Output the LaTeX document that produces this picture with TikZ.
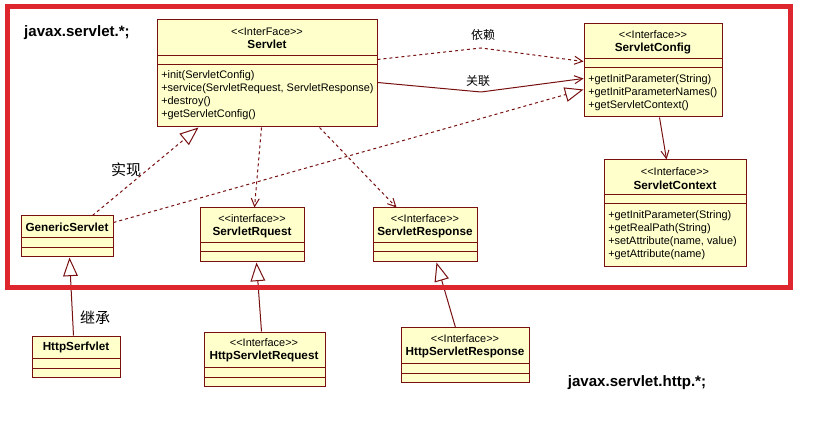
\documentclass[tikz,border=0pt]{standalone}
\usepackage{fontspec}
\setmainfont{Liberation Sans}[Ligatures=TeXOff]
\newfontfamily\cjk{Noto Sans CJK SC}
\usetikzlibrary{arrows.meta,calc,fit}
\definecolor{boxfill}{RGB}{255,255,204}
\definecolor{umlline}{RGB}{120,16,16}
\definecolor{framered}{RGB}{222,38,46}
\tikzset{
  classbox/.style={draw=umlline, fill=boxfill, line width=0.75pt, inner sep=0pt, rectangle},
  sepline/.style={draw=umlline, line width=0.75pt},
  stereo/.style={font=\fontsize{8.2}{9.75}\selectfont, inner sep=0pt},
  cname/.style={font=\bfseries\fontsize{8.8}{10}\selectfont, inner sep=0pt},
  ops/.style={font=\fontsize{8.2}{9.75}\selectfont, align=left, anchor=west, inner sep=0pt},
  lbl/.style={font=\cjk\fontsize{9}{10}\selectfont, inner sep=0pt},
  biglbl/.style={font=\cjk\fontsize{11.25}{12}\selectfont, inner sep=0pt},
  pkg/.style={font=\bfseries\fontsize{11.3}{13}\selectfont, inner sep=0pt},
  conn/.style={draw=umlline, line width=0.75pt},
  dashline/.style={dash pattern=on 2.25pt off 2.25pt},
  vee/.style={-{Straight Barb[length=6pt,width=6pt]}},
  tri/.style={-{Triangle[length=14pt,width=11pt,fill=white]}},
}
\newcommand\umlclass[7]{%
  \node[classbox, fit={(#2,#3) (#4,#5)}] (#1) {};
  \draw[sepline] (#2,#6) -- (#4,#6);
  \draw[sepline] (#2,#7) -- (#4,#7);
}
\begin{document}
\begin{tikzpicture}[x=0.75pt,y=-0.75pt]
\useasboundingbox (0,0) rectangle (813,441);
\fill[white] (0,0) rectangle (813,441);

% classes
\umlclass{servlet}{157}{20}{377}{127}{56}{65}
\node[stereo] (servlet-st) at (267,32) {<<InterFace>>};
\node[cname] (servlet-nm) at (267,44) {Servlet};
\node[ops] (servlet-op) at (161,95) {+init(ServletConfig)\\+service(ServletRequest, ServletResponse)\\+destroy()\\+getServletConfig()};

\umlclass{config}{584}{24}{722}{117}{59}{68}
\node[stereo] (config-st) at (653,35) {<<Interface>>};
\node[cname] (config-nm) at (653,48) {ServletConfig};
\node[ops] (config-op) at (588,93) {+getInitParameter(String)\\+getInitParameterNames()\\+getServletContext()};

\umlclass{context}{604}{160}{746}{267}{195}{204}
\node[stereo] (context-st) at (675,172) {<<Interface>>};
\node[cname] (context-nm) at (675,185) {ServletContext};
\node[ops] (context-op) at (608,235) {+getInitParameter(String)\\+getRealPath(String)\\+setAttribute(name, value)\\+getAttribute(name)};

\umlclass{generic}{21}{216}{113}{257}{238}{248}
\node[cname] (generic-nm) at (67,227) {GenericServlet};

\umlclass{request}{200}{208}{304}{262}{243}{252}
\node[stereo] (request-st) at (252,219) {<<interface>>};
\node[cname] (request-nm) at (252,232) {ServletRquest};

\umlclass{response}{373}{208}{477}{262}{243}{252}
\node[stereo] (response-st) at (425,219) {<<Interface>>};
\node[cname] (response-nm) at (425,232) {ServletResponse};

\umlclass{httpservlet}{32}{336}{120}{377}{358}{368}
\node[cname] (httpservlet-nm) at (76,347) {HttpSerfvlet};

\umlclass{httpreq}{204}{332}{325}{386}{367}{377}
\node[stereo] (httpreq-st) at (264,343) {<<Interface>>};
\node[cname] (httpreq-nm) at (264,356) {HttpServletRequest};

\umlclass{httpresp}{401}{328}{529}{382}{363}{373}
\node[stereo] (httpresp-st) at (465,339) {<<Interface>>};
\node[cname] (httpresp-nm) at (465,352) {HttpServletResponse};

% connectors
\draw[conn,dashline,vee] ($(servlet.north east)+(0,40)$) -- (481,48) -- ($(config.north west)+(0,38)$);
\draw[conn,vee] ($(servlet.north east)+(0,63)$) -- (481,92) -- ($(config.north west)+(0,55)$);
\draw[conn,dashline,tri] ($(generic.north east)+(0,7)$) -- ($(config.north west)+(0,66)$);
\draw[conn,dashline,tri] ($(generic.north west)+(72,0)$) -- ($(servlet.south west)+(42,0)$);
\draw[conn,dashline,vee] ($(servlet.south west)+(105,0)$) -- ($(request.north west)+(55,0)$);
\draw[conn,dashline,vee] ($(servlet.south west)+(163,0)$) -- ($(response.north west)+(24,0)$);
\draw[conn,vee] ($(config.south west)+(76,0)$) -- ($(context.north west)+(63,0)$);
\draw[conn,tri] ($(httpservlet.north west)+(42,0)$) -- ($(generic.south west)+(49,0)$);
\draw[conn,tri] ($(httpreq.north west)+(58,0)$) -- ($(request.south west)+(57,0)$);
\draw[conn,tri] ($(httpresp.north west)+(55,0)$) -- ($(response.south west)+(64,0)$);

% labels
\node[lbl] (l-dep) at (483,35) {依赖};
\node[lbl] (l-assoc) at (478,81) {关联};
\node[biglbl] (l-real) at (126,170) {实现};
\node[biglbl] (l-inh) at (95,318) {继承};

% package frame and titles
\draw[framered, line width=3.75pt] (7,7) rectangle (790,288);
\node[pkg] (pkg1) at (77,33) {javax.servlet.*;};
\node[pkg] (pkg2) at (637,383) {javax.servlet.http.*;};
\end{tikzpicture}
\end{document}
